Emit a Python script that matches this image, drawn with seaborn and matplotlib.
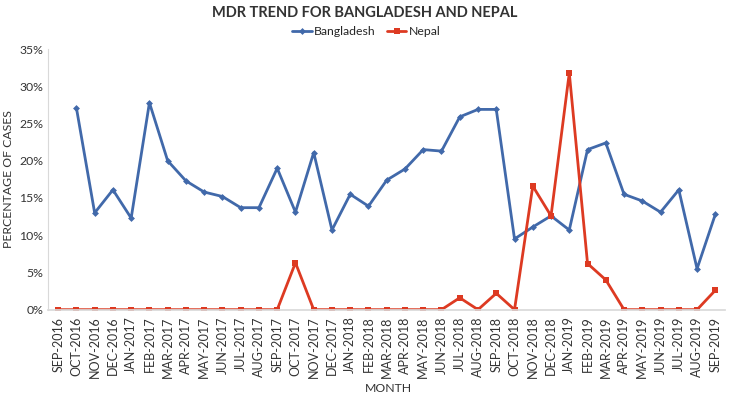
import numpy as np
import pandas as pd
import matplotlib
matplotlib.use("Agg")
import matplotlib.pyplot as plt
import seaborn as sns
from matplotlib.ticker import PercentFormatter

# months on the x axis
months = ["SEP-2016", "OCT-2016", "NOV-2016", "DEC-2016", "JAN-2017", "FEB-2017",
          "MAR-2017", "APR-2017", "MAY-2017", "JUN-2017", "JUL-2017", "AUG-2017",
          "SEP-2017", "OCT-2017", "NOV-2017", "DEC-2017", "JAN-2018", "FEB-2018",
          "MAR-2018", "APR-2018", "MAY-2018", "JUN-2018", "JUL-2018", "AUG-2018",
          "SEP-2018", "OCT-2018", "NOV-2018", "DEC-2018", "JAN-2019", "FEB-2019",
          "MAR-2019", "APR-2019", "MAY-2019", "JUN-2019", "JUL-2019", "AUG-2019",
          "SEP-2019"]

# percentage of cases
bangladesh = [np.nan, 27.1, 13.0, 16.1, 12.3, 27.8,
              20.0, 17.3, 15.8, 15.2, 13.7, 13.7,
              19.0, 13.1, 21.1, 10.7, 15.5, 13.9,
              17.4, 18.9, 21.5, 21.3, 25.9, 26.9,
              26.9, 9.5, 11.1, 12.6, 10.7, 21.5,
              22.4, 15.5, 14.6, 13.1, 16.1, 5.5,
              12.8]
nepal = [0, 0, 0, 0, 0, 0,
         0, 0, 0, 0, 0, 0,
         0, 6.3, 0, 0, 0, 0,
         0, 0, 0, 0, 1.6, 0,
         2.2, 0, 16.6, 12.6, 31.8, 6.2,
         4.0, 0, 0, 0, 0, 0,
         2.6]

df = pd.DataFrame({"pos": np.arange(len(months)), "month": months,
                   "Bangladesh": bangladesh, "Nepal": nepal})

sns.set_theme(style="white")
plt.rcParams["font.family"] = ["Lato", "DejaVu Sans"]

fig, ax = plt.subplots(figsize=(7.29, 3.96), dpi=100)
fig.subplots_adjust(left=0.066, right=0.995, top=0.876, bottom=0.218)

blue = "#4169AA"
red = "#DD3A22"
sns.lineplot(data=df, x="pos", y="Bangladesh", ax=ax, color=blue, lw=2,
             marker="D", markersize=3.5, markeredgewidth=0, label="Bangladesh")
sns.lineplot(data=df, x="pos", y="Nepal", ax=ax, color=red, lw=2,
             marker="s", markersize=4.5, markeredgewidth=0, label="Nepal")

ax.set_xlim(-0.55, len(months) - 0.45)
ax.set_ylim(0, 35)
ax.set_yticks(range(0, 36, 5))
ax.yaxis.set_major_formatter(PercentFormatter(decimals=0))
ax.set_xticks(df["pos"])
ax.set_xticklabels(months, rotation=90, fontsize=9, color="#333333")
ax.tick_params(axis="y", labelsize=8.8, colors="#333333", length=0)
ax.tick_params(axis="x", length=0, pad=5)

for side in ["top", "right"]:
    ax.spines[side].set_visible(False)
ax.spines["left"].set_color("#D9D9D9")
ax.spines["bottom"].set_color("#D9D9D9")
ax.spines["left"].set_linewidth(0.8)

ax.set_xlabel("")
ax.set_ylabel("PERCENTAGE OF CASES", fontsize=8.8, color="#333333", labelpad=4)
fig.text(0.533, 0.018, "MONTH", ha="center", va="center", fontsize=8.8,
         color="#333333")

fig.suptitle("MDR TREND FOR BANGLADESH AND NEPAL", fontsize=10.5,
             fontweight="bold", color="#333333", y=0.985)
ax.legend(loc="upper center", bbox_to_anchor=(0.47, 1.13), ncol=2, frameon=False,
          fontsize=8.8, handlelength=1.6, handletextpad=0.2, columnspacing=0.9)

fig.savefig("out.png", dpi=100)
